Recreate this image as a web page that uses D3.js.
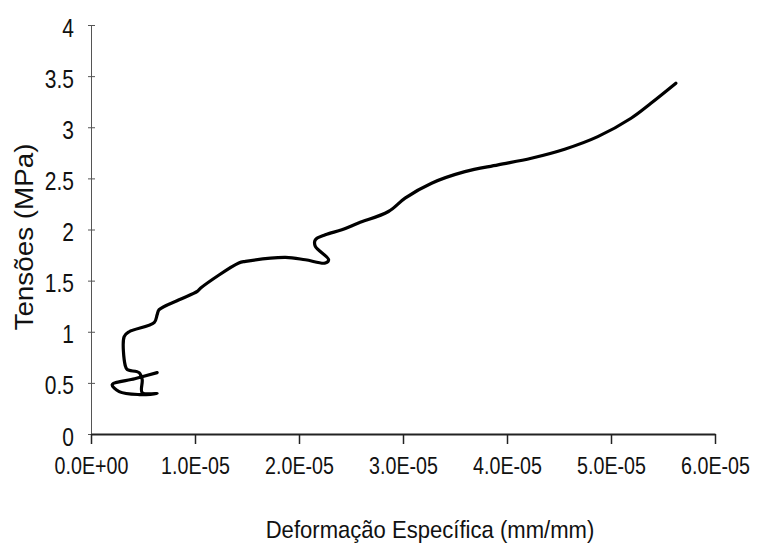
<!DOCTYPE html>
<html>
<head>
<meta charset="utf-8">
<script src="https://cdn.jsdelivr.net/npm/d3@7"></script>
<style>
  html, body { margin: 0; padding: 0; background: #fff; }
  svg { display: block; }
  text { font-family: "Liberation Sans", Arial, sans-serif; fill: #111; }
</style>
</head>
<body>
<svg id="chart" width="760" height="549"></svg>
<script>
// ---- data (strain in mm/mm, stress in MPa) ----
const strain = [
  6.36e-6, 4.20e-6, 2.04e-6, 2.71e-6, 4.63e-6, 6.36e-6, 4.92e-6, 4.92e-6, 4.63e-6, 3.48e-6,
  3.29e-6, 3.19e-6, 3.67e-6, 6.07e-6, 6.36e-6, 6.55e-6, 8.47e-6, 1.022e-5, 1.055e-5, 1.421e-5,
  1.486e-5, 1.870e-5, 2.061e-5, 2.253e-5, 2.285e-5, 2.157e-5, 2.157e-5, 2.253e-5, 2.412e-5, 2.572e-5,
  2.860e-5, 3.020e-5, 3.275e-5, 3.595e-5, 3.914e-5, 4.234e-5, 4.554e-5, 4.873e-5, 5.193e-5, 5.384e-5,
  5.624e-5
];
const stress = [
  0.60, 0.54, 0.483, 0.415, 0.386, 0.395, 0.405, 0.533, 0.60, 0.63,
  0.67, 0.952, 1.00, 1.089, 1.167, 1.216, 1.313, 1.395, 1.428, 1.672,
  1.688, 1.727, 1.704, 1.672, 1.704, 1.834, 1.899, 1.948, 1.997, 2.063,
  2.176, 2.307, 2.453, 2.566, 2.632, 2.697, 2.785, 2.908, 3.088, 3.234,
  3.430
];
const xTickValues = [0, 1e-5, 2e-5, 3e-5, 4e-5, 5e-5, 6e-5];
const xTickLabels = ["0.0E+00", "1.0E-05", "2.0E-05", "3.0E-05", "4.0E-05", "5.0E-05", "6.0E-05"];
const yTickValues = [0, 0.5, 1, 1.5, 2, 2.5, 3, 3.5, 4];
const yTickLabels = ["0", "0.5", "1", "1.5", "2", "2.5", "3", "3.5", "4"];
const xTitle = "Deformação Específica (mm/mm)";
const yTitle = "Tensões (MPa)";

// ---- drawing ----
const svg = d3.select("#chart");
const x = d3.scaleLinear().domain([0, 6e-5]).range([91, 715]);
const y = d3.scaleLinear().domain([0, 4]).range([434, 25]);

// y axis (thin, crossing ticks)
const yAxis = d3.axisLeft(y).tickValues(yTickValues).tickSize(0).tickFormat(() => "");
const gy = svg.append("g").attr("transform", `translate(${x(0)},0)`).call(yAxis);
gy.select(".domain").attr("stroke", "#555").attr("stroke-width", 1);
gy.selectAll(".tick").append("line")
  .attr("x1", -3).attr("x2", 4).attr("stroke", "#555").attr("stroke-width", 1);
gy.selectAll(".tick").append("text")
  .attr("transform", "translate(-17,11) scale(0.84,1)")
  .attr("text-anchor", "end")
  .attr("font-size", 25)
  .attr("fill", "#111")
  .style("font-family", '"Liberation Sans", Arial, sans-serif')
  .text((d, i) => yTickLabels[i]);

// x axis (dark, ticks downward)
const xAxis = d3.axisBottom(x).tickValues(xTickValues).tickSize(10).tickSizeOuter(0)
  .tickFormat((d, i) => xTickLabels[i]);
const gx = svg.append("g").attr("transform", `translate(0,${y(0)})`).call(xAxis);
gx.select(".domain").attr("stroke", "#222").attr("stroke-width", 2);
gx.selectAll(".tick line").attr("stroke", "#222").attr("stroke-width", 1.5);
gx.selectAll(".tick text")
  .attr("y", null).attr("dy", null)
  .attr("transform", "translate(0,40) scale(0.82,1)")
  .attr("font-size", 24)
  .style("font-family", '"Liberation Sans", Arial, sans-serif')
  .attr("fill", "#111");

// titles
svg.append("text")
  .attr("transform", "translate(430,538) scale(0.92,1)")
  .attr("text-anchor", "middle")
  .attr("font-size", 24)
  .text(xTitle);

svg.append("text")
  .attr("transform", "translate(33,237) rotate(-90)")
  .attr("text-anchor", "middle")
  .attr("font-size", 25)
  .attr("textLength", 187)
  .attr("lengthAdjust", "spacingAndGlyphs")
  .text(yTitle);

// curve
const pts = strain.map((s, i) => [s, stress[i]]);
const line = d3.line()
  .x(d => x(d[0]))
  .y(d => y(d[1]))
  .curve(d3.curveCatmullRom.alpha(0.5));
svg.append("path")
  .datum(pts)
  .attr("d", line)
  .attr("fill", "none")
  .attr("stroke", "#000")
  .attr("stroke-width", 3.2)
  .attr("stroke-linejoin", "round")
  .attr("stroke-linecap", "round");
</script>
</body>
</html>
